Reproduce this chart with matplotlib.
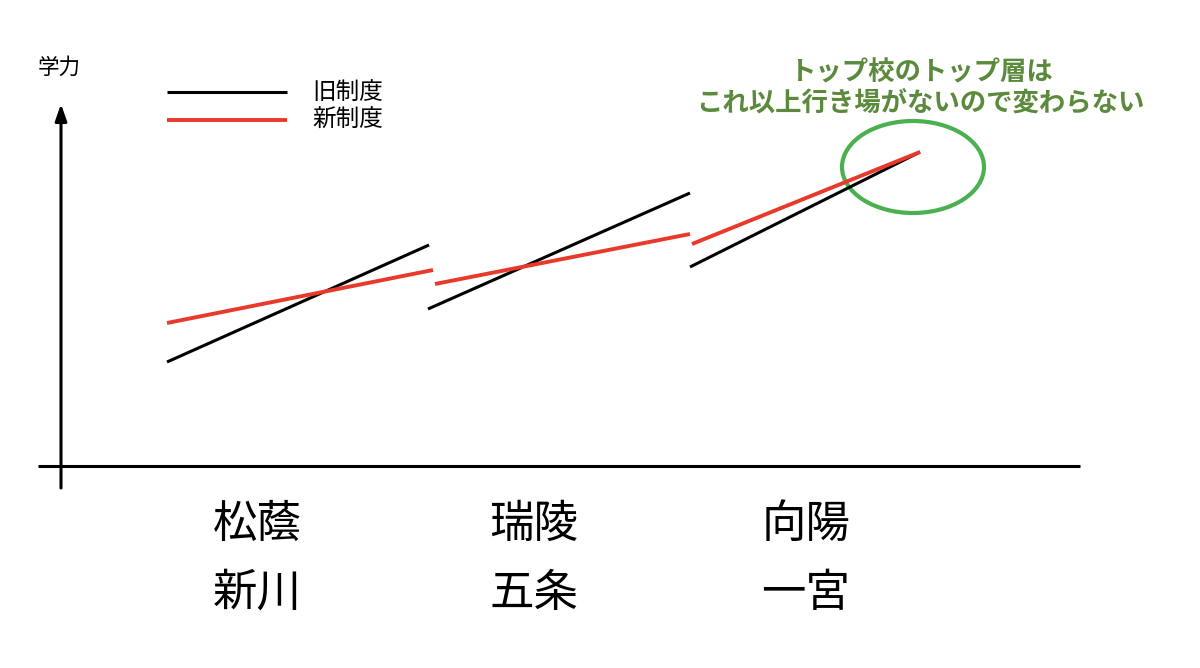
import matplotlib
matplotlib.use("Agg")
import matplotlib.pyplot as plt
from matplotlib.patches import Ellipse

plt.rcParams['font.family'] = ['Noto Sans CJK JP', 'DejaVu Sans']

# school groups (bottom labels) and their x ranges
schools_top = ["松蔭", "瑞陵", "向陽"]
schools_bottom = ["新川", "五条", "一宮"]
label_x = [257, 534, 806]

old_x = [(167, 429), (428, 690), (690, 920)]
old_y = [(104, 221), (157, 273), (199, 314)]
new_x = [(167, 433), (435, 690), (692, 920)]
new_y = [(143, 196), (182, 232), (222, 314)]

legend_labels = ["旧制度", "新制度"]
note_lines = ["トップ校のトップ層は", "これ以上行き場がないので変わらない"]

black = "#000000"
red = "#e8392b"
green = "#4caf50"
olive = "#5b8a3c"

fig = plt.figure(figsize=(12, 6.68), dpi=100)
ax = fig.add_axes([0, 0, 1, 1])
ax.set_xlim(0, 1200)
ax.set_ylim(466 - 668, 466)
ax.axis("off")

# axes
ax.plot([38, 1080], [0, 0], color=black, lw=2.2, solid_capstyle="butt")
ax.annotate("", xy=(61, 362), xytext=(61, -22),
            arrowprops=dict(arrowstyle="-|>,head_length=1.0,head_width=0.35",
                            color=black, lw=2.2, shrinkA=0, shrinkB=0))
ax.text(38, 398, "学力", fontsize=15.5, ha="left", va="center")

# segments
for xs, ys in zip(old_x, old_y):
    ax.plot(xs, ys, color=black, lw=2.2, solid_capstyle="butt")
for xs, ys in zip(new_x, new_y):
    ax.plot(xs, ys, color=red, lw=2.8, solid_capstyle="butt")

# legend
ax.plot([167, 287], [374, 374], color=black, lw=2.2, solid_capstyle="butt")
ax.plot([167, 287], [346, 346], color=red, lw=2.8, solid_capstyle="butt")
ax.text(312, 374, legend_labels[0], fontsize=17, ha="left", va="center")
ax.text(312, 346, legend_labels[1], fontsize=17, ha="left", va="center")

# school labels
for x, t, b in zip(label_x, schools_top, schools_bottom):
    ax.text(x, -58, t, fontsize=32, ha="center", va="center")
    ax.text(x, -127, b, fontsize=32, ha="center", va="center")

# highlight
ax.add_patch(Ellipse((913, 299), 142, 92, fill=False, ec=green, lw=3))
ax.text(922, 393, note_lines[0], fontsize=19, fontweight="bold", color=olive,
        ha="center", va="center")
ax.text(920, 363, note_lines[1], fontsize=19, fontweight="bold", color=olive,
        ha="center", va="center")

plt.savefig("out.png", dpi=100)
